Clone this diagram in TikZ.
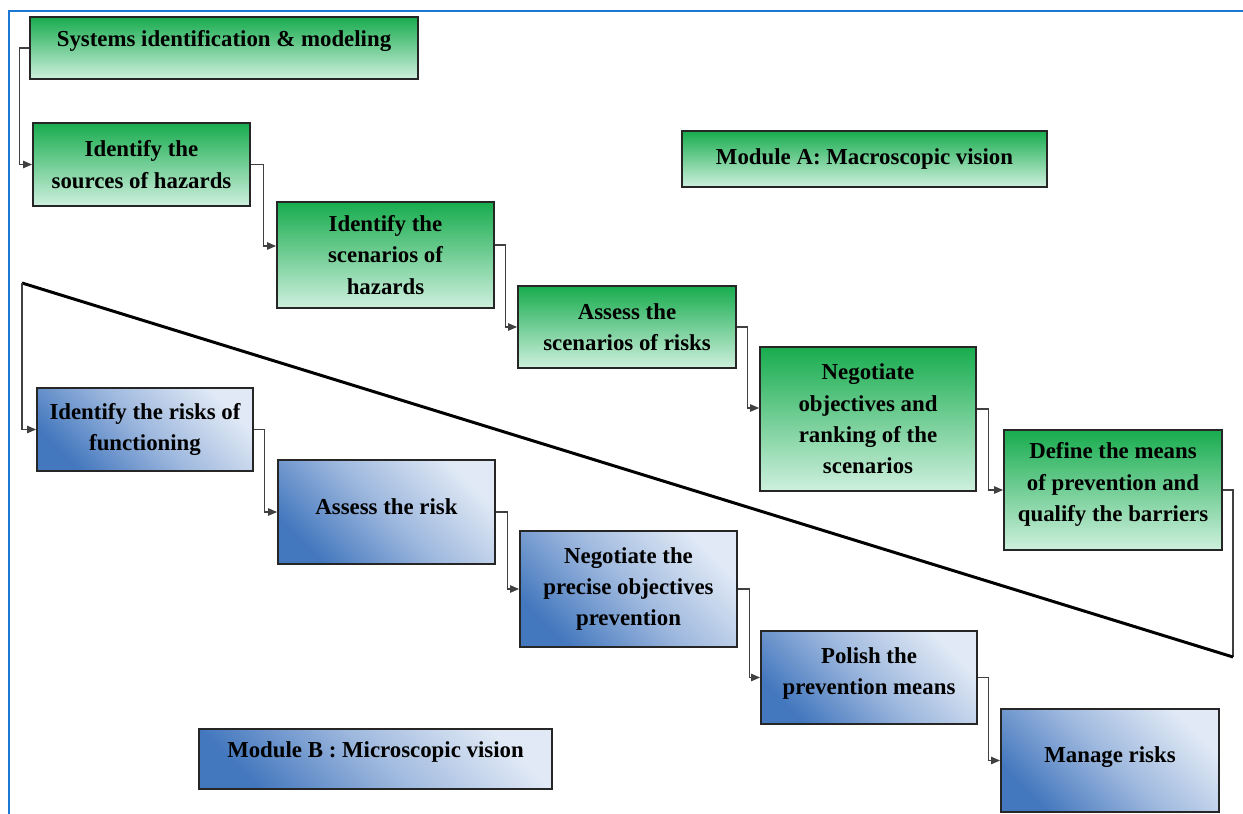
\documentclass[tikz,border=0pt]{standalone}
\usepackage{fontspec}
\setmainfont{Liberation Serif}
\usetikzlibrary{arrows.meta}
\definecolor{macroTop}{RGB}{24,172,78}
\definecolor{macroBot}{RGB}{206,240,222}
\definecolor{microDark}{RGB}{68,120,190}
\definecolor{microMid}{RGB}{158,184,222}
\definecolor{microLight}{RGB}{224,233,245}
\definecolor{frameBlue}{RGB}{28,120,210}

\begin{document}
\begin{tikzpicture}[
  x=0.02cm, y=-0.02cm,
  box/.style={draw=black!85, line width=1.1pt, align=center, inner sep=2pt,
    font=\bfseries\fontsize{13pt}{17.8pt}\selectfont},
  macro/.style={box, top color=macroTop, bottom color=macroBot},
  micro/.style={box, top color=microLight, bottom color=microDark, middle color=microMid, shading angle=-45},
  arr/.style={draw=black!75, line width=0.6pt, -{Triangle[length=1.8mm,width=1.5mm]}},
  seg/.style={draw=black!75, line width=0.6pt},
  divider/.style={line width=1.7pt},
  frame/.style={draw=frameBlue, line width=1.3pt}
]
\useasboundingbox (0,0) rectangle (1243,814);
\draw[frame] (1243,11) -- (9,11) -- (9,814);

% module A
\node[macro, minimum width=7.76cm, minimum height=1.24cm, text depth=11pt] (sysid) at (224,48) {Systems identification \& modeling};
\node[macro, minimum width=4.34cm, minimum height=1.66cm] (srcs) at (141.5,164.5) {Identify the\\ sources of hazards};
\node[macro, minimum width=4.34cm, minimum height=2.12cm] (scen) at (385.5,255) {Identify the\\ scenarios of\\ hazards};
\node[macro, minimum width=4.36cm, minimum height=1.64cm] (assess) at (627,327) {Assess the\\ scenarios of risks};
\node[macro, minimum width=4.32cm, minimum height=2.88cm] (negot) at (868,419) {Negotiate\\ objectives and\\ ranking of the\\ scenarios};
\node[macro, minimum width=4.36cm, minimum height=2.40cm, text depth=9pt] (define) at (1113,490) {Define the means\\ of prevention and\\ qualify the barriers};
\node[macro, minimum width=7.30cm, minimum height=1.12cm] (modA) at (864.5,159) {Module A: Macroscopic vision};

% module B
\node[micro, minimum width=4.32cm, minimum height=1.66cm] (riskf) at (145,429.5) {Identify the risks of\\ functioning};
\node[micro, minimum width=4.34cm, minimum height=2.08cm, text depth=6pt] (assrisk) at (386.5,512) {Assess the risk};
\node[micro, minimum width=4.34cm, minimum height=2.32cm] (prec) at (628.5,589) {Negotiate the\\ precise objectives\\ prevention};
\node[micro, minimum width=4.32cm, minimum height=1.86cm, text depth=7pt] (polish) at (869,677.5) {Polish the\\ prevention means};
\node[micro, minimum width=4.36cm, minimum height=2.06cm, text depth=7pt] (manage) at (1110,760.5) {Manage risks};
\node[micro, minimum width=7.06cm, minimum height=1.20cm, text depth=11pt] (modB) at (375.5,759) {Module B : Microscopic vision};

% links
\draw[arr] (sysid.west) -- ++(-10,0) |- (srcs.west);
\draw[arr] (srcs.east) -- ++(13,0) |- ([yshift=0.18cm]scen.west);
\draw[arr] ([yshift=0.2cm]scen.east) -- ++(11,0) |- (assess.west);
\draw[arr] (assess.east) -- ++(11,0) |- ([yshift=0.22cm]negot.west);
\draw[arr] ([yshift=0.2cm]negot.east) -- ++(12,0) |- (define.west);
\coordinate (dR) at (1233,657);
\coordinate (dL) at (22,283);
\draw[seg] (define.east) -| (dR);
\draw[divider] (dR) -- (dL);
\draw[arr] (dL) |- (riskf.west);
\draw[arr] (riskf.east) -- ++(11,0) |- (assrisk.west);
\draw[arr] (assrisk.east) -- ++(12,0) |- (prec.west);
\draw[arr] (prec.east) -- ++(12,0) |- (polish.west);
\draw[arr] (polish.east) -- ++(11,0) |- (manage.west);
\end{tikzpicture}
\end{document}
